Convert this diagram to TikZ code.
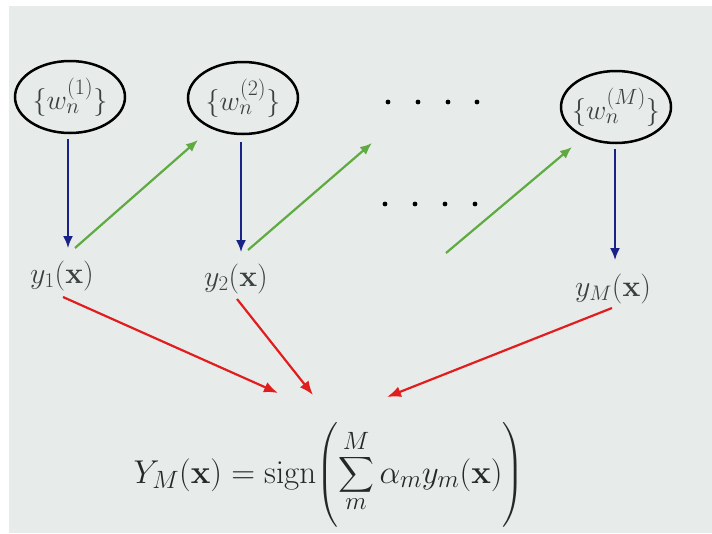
\documentclass[tikz,border=0pt]{standalone}
\usepackage{fix-cm}
\usepackage{exscale}
\usetikzlibrary{shapes.geometric,arrows.meta}
\DeclareMathSizes{28}{28}{22}{16}
\DeclareMathSizes{33}{33}{25}{18}
\definecolor{bgpaper}{RGB}{231,236,235}
\definecolor{inkgray}{RGB}{62,64,64}
\definecolor{inkdark}{RGB}{38,40,40}
\definecolor{arrblue}{RGB}{25,35,135}
\definecolor{arrgreen}{RGB}{95,170,65}
\definecolor{arrred}{RGB}{225,30,30}
\tikzset{
 wnode/.style={ellipse, draw=black, line width=2.5pt, minimum width=110pt, minimum height=72pt, inner sep=0pt, text=inkgray, font=\fontsize{28}{34}\selectfont},
 funclabel/.style={anchor=base, inner sep=0pt, text=inkgray, font=\fontsize{30}{36}\selectfont},
 barrow/.style={draw=arrblue, line width=1.8pt, -{Latex[length=12pt,width=10pt]}},
 garrow/.style={draw=arrgreen, line width=2.2pt, -{Latex[length=12pt,width=10pt]}},
 rarrow/.style={draw=arrred, line width=2.2pt, -{Latex[length=14pt,width=11pt]}},
 dotmark/.style={fill=black}
}
\begin{document}
\begin{tikzpicture}[x=1pt,y=-1pt]
\useasboundingbox (0,0) rectangle (712,533);
\fill[white] (0,0) rectangle (712,533);
\fill[bgpaper] (9,6) rectangle (712,533);
% weight nodes
\node[wnode] (w1) at (70,97) {\makebox[60pt]{$\{w_n^{(1)}\}$}};
\node[wnode] (w2) at (243,98) {\makebox[60pt]{$\{w_n^{(2)}\}$}};
\node[wnode] (wM) at (616,107) {\makebox[60pt]{$\{w_n^{(M)}\}$}};
% classifier labels
\node[funclabel] (y1) at (62,283) {$y_1(\mathbf{x})$};
\node[funclabel] (y2) at (236,286) {$y_2(\mathbf{x})$};
\node[funclabel] (yM) at (613,296) {$y_M(\mathbf{x})$};
% combined output
\node[anchor=base, inner sep=0pt, text=inkdark, font=\fontsize{33}{40}\selectfont] (Y) at (329,483)
 {$\displaystyle Y_M(\mathbf{x}) = \mathop{\mathrm{sign}}\nolimits\Biggl(\sum_{m}^{M}\alpha_m y_m(\mathbf{x})\Biggr)$};
% dots
\foreach \x in {388,418,448,477} \fill[dotmark] (\x,102) circle (2.4pt);
\foreach \x in {385,415,445,475} \fill[dotmark] (\x,204) circle (2.4pt);
\coordinate (g2end) at (372,143);
\coordinate (g3start) at (446,253);
% blue arrows
\draw[barrow] ([shift={(-2pt,-5pt)}]w1.south) -- ([shift={(6pt,35pt)}]y1.base);
\draw[barrow] ([shift={(-2pt,-7pt)}]w2.south) -- ([shift={(5pt,34pt)}]y2.base);
\draw[barrow] ([shift={(-1pt,-5pt)}]wM.south) -- ([shift={(2pt,36pt)}]yM.base);
% green arrows
\draw[garrow] ([shift={(13pt,35pt)}]y1.base) -- ([shift={(-45pt,-42pt)}]w2.center);
\draw[garrow] ([shift={(12pt,36pt)}]y2.base) -- (g2end);
\draw[garrow] (g3start) -- ([shift={(-44pt,-40pt)}]wM.center);
% red arrows
\draw[rarrow] ([shift={(1pt,-14pt)}]y1.base) -- ([shift={(-51pt,90pt)}]Y.base);
\draw[rarrow] ([shift={(1pt,-13pt)}]y2.base) -- ([shift={(-16pt,88pt)}]Y.base);
\draw[rarrow] ([shift={(-1pt,-12pt)}]yM.base) -- ([shift={(58pt,86pt)}]Y.base);
\end{tikzpicture}
\end{document}
